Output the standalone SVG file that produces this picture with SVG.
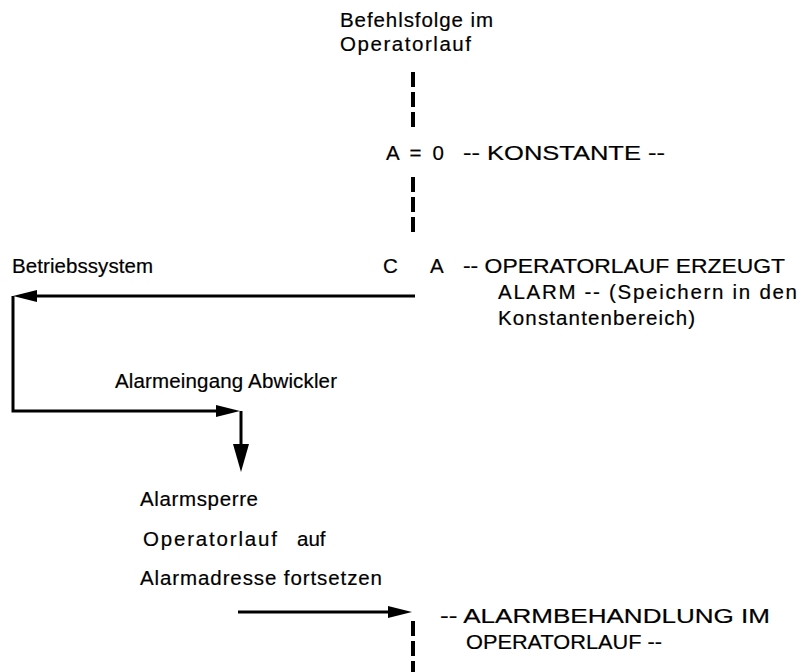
<svg xmlns="http://www.w3.org/2000/svg" width="803" height="672" viewBox="0 0 803 672">
<style>
  text { font-family: "Liberation Sans", "DejaVu Sans", Arial, sans-serif; font-size: 20.5px; fill: #000; stroke: #000; stroke-width: 0.2px; }
  .line { fill: none; stroke: #000; stroke-width: 3; }
  .dash { fill: none; stroke: #000; stroke-width: 4; stroke-dasharray: 15 5; }
</style>
<defs>
  <marker id="arrow" markerUnits="userSpaceOnUse" markerWidth="26" markerHeight="14" viewBox="0 0 26 14" refX="14" refY="7" orient="auto">
    <path d="M0,1 L24,7 L0,13 z" fill="#000"/>
  </marker>
  <marker id="arrowBig" markerUnits="userSpaceOnUse" markerWidth="30" markerHeight="18" viewBox="0 0 30 18" refX="16" refY="9" orient="auto">
    <path d="M0,1 L28,9 L0,17 z" fill="#000"/>
  </marker>
</defs>

<g id="start">
  <text x="340" y="27" textLength="153" lengthAdjust="spacing">Befehlsfolge im</text>
  <text x="340" y="51" textLength="131" lengthAdjust="spacing">Operatorlauf</text>
</g>

<g id="konstante">
  <text x="386" y="160" textLength="58" lengthAdjust="spacing">A = 0</text>
  <text x="463" y="160" textLength="202" lengthAdjust="spacingAndGlyphs">-- KONSTANTE --</text>
</g>

<g id="alarm">
  <text x="383" y="273">C</text>
  <text x="430" y="273">A</text>
  <text x="463" y="273" textLength="322" lengthAdjust="spacingAndGlyphs">-- OPERATORLAUF ERZEUGT</text>
  <text x="498" y="299" textLength="299" lengthAdjust="spacing">ALARM -- (Speichern in den</text>
  <text x="498" y="325" textLength="197" lengthAdjust="spacing">Konstantenbereich)</text>
</g>

<g id="betriebssystem">
  <text x="12" y="273" textLength="141" lengthAdjust="spacing">Betriebssystem</text>
</g>

<g id="abwickler">
  <text x="115" y="388" textLength="222" lengthAdjust="spacing">Alarmeingang Abwickler</text>
</g>

<g id="sperre">
  <text x="140" y="506" textLength="118" lengthAdjust="spacing">Alarmsperre</text>
  <text x="143" y="546" textLength="134" lengthAdjust="spacing">Operatorlauf</text>
  <text x="297" y="546">auf</text>
  <text x="140" y="585" textLength="242" lengthAdjust="spacing">Alarmadresse fortsetzen</text>
</g>

<g id="behandlung">
  <text x="440" y="623" textLength="330" lengthAdjust="spacingAndGlyphs">-- ALARMBEHANDLUNG IM</text>
  <text x="466" y="649" textLength="196" lengthAdjust="spacingAndGlyphs">OPERATORLAUF --</text>
</g>

<g id="connectors">
  <path class="dash" d="M413,72 V128"/>
  <path class="dash" d="M413,177 V235"/>
  <path class="dash" d="M413,621 V672"/>
  <path class="line" d="M415,296 H23" marker-end="url(#arrow)"/>
  <path class="line" d="M13,296 V411 H230" marker-end="url(#arrow)"/>
  <path class="line" d="M241,411 V460" marker-end="url(#arrowBig)"/>
  <path class="line" d="M238,612 H402" marker-end="url(#arrow)"/>
</g>
</svg>
